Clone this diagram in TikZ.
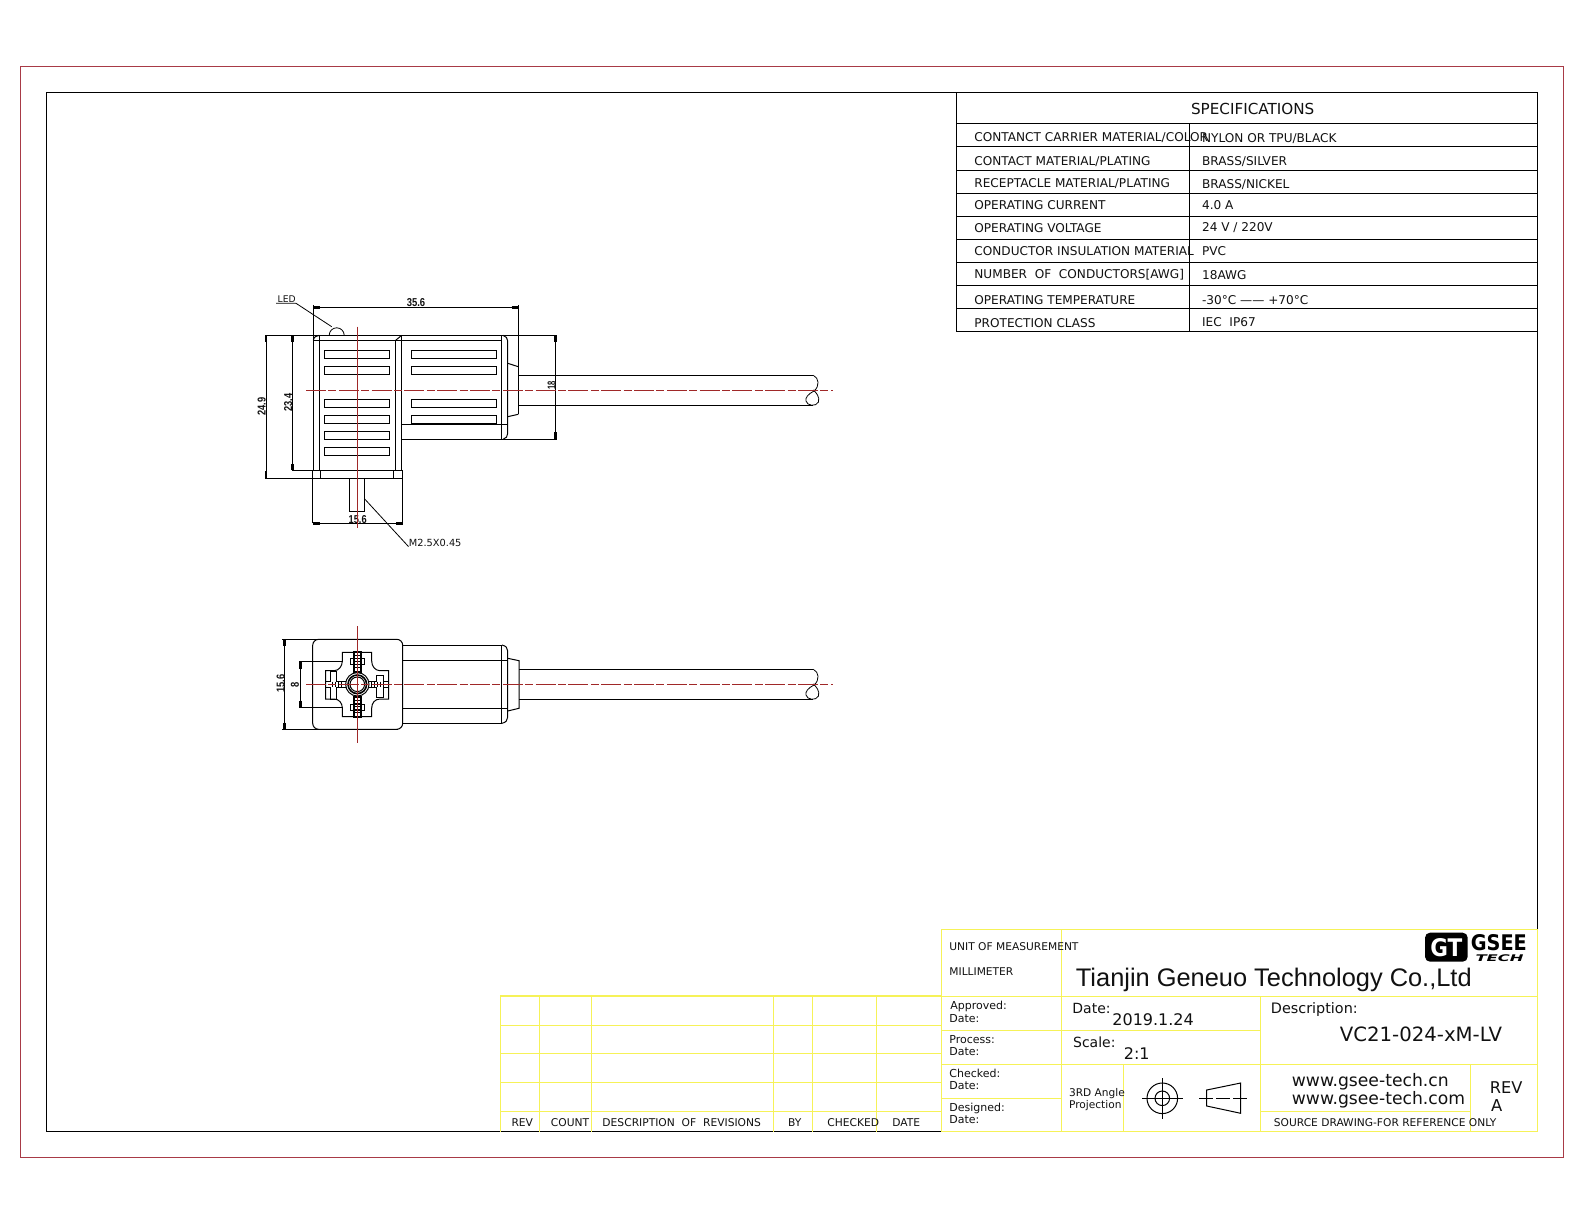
\documentclass[tikz,border=0pt]{standalone}
\usepackage{fontspec}
\setmainfont{DejaVu Sans}
\newfontfamily\arialf{Liberation Sans}
\definecolor{frameR}{HTML}{A83A46}
\definecolor{cent}{HTML}{A02828}
\definecolor{yel}{HTML}{F6F258}
\definecolor{ink}{HTML}{111111}
\newcommand\Tx[5]{\node[txt,yshift=-#4*0.365pt,font=\fontsize{#4}{#4}\selectfont] (#1) at (#2,#3) {#5};}
\newcommand\Tc[5]{\node[txtc,yshift=-#4*0.365pt,font=\fontsize{#4}{#4}\selectfont] (#1) at (#2,#3) {#5};}
% CAD dimension number: name,x,y,width,height,rotation,text (lengths in pt)
\newcommand\Dm[7]{\node[inner sep=0,rotate=#6,text=ink] (#1) at (#2,#3) {\resizebox{#4pt}{#5pt}{\arialf\bfseries #7}};}
\tikzset{
 txt/.style={anchor=base west,inner sep=0,text=ink},
 txtc/.style={anchor=base,inner sep=0,text=ink},
 blk/.style={draw=black,line width=0.5pt},
 thin blk/.style={draw=black,line width=0.4pt},
 tickm/.style={draw=black,line width=1.3pt},
 yl/.style={draw=yel,line width=0.75pt},
 cl/.style={draw=cent,line width=0.5pt},
 cld/.style={draw=cent,line width=0.5pt,dash pattern=on 10pt off 1.2pt on 4pt off 1.2pt},
}
\begin{document}
\begin{tikzpicture}[x=0.5pt,y=-0.5pt]
\useasboundingbox[fill=white] (0,0) rectangle (1584,1224);
% frames
\draw[draw=frameR,line width=0.5pt] (20.2,66.7) rectangle (1563.3,1157.5);
\draw[blk] (941.7,1131.5) -- (46.5,1131.5) -- (46.5,93) -- (1537.5,93) -- (1537.5,929.3);
% spec table
\draw[blk] (956.3,93) -- (956.3,331.5) -- (1537.5,331.5) -- (1537.5,93);
\foreach \yy in {123.3,146.3,170.3,193.3,216.3,239.3,262.3,285.3,308.3}
  \draw[blk] (956.3,\yy) -- (1537.5,\yy);
\draw[blk] (1189.3,123.3) -- (1189.3,331.5);
\Tc{sp}{1252.7}{109.3}{7.6}{SPECIFICATIONS}
\Tx{a1}{974}{137.3}{6.05}{CONTANCT CARRIER MATERIAL/COLOR}
\Tx{a2}{974}{160.7}{6.05}{CONTACT MATERIAL/PLATING}
\Tx{a3}{974}{183.3}{6.05}{RECEPTACLE MATERIAL/PLATING}
\Tx{a4}{974}{205.3}{6.05}{OPERATING CURRENT}
\Tx{a5}{974}{228.3}{6.05}{OPERATING VOLTAGE}
\Tx{a6}{974}{251.3}{6.05}{CONDUCTOR INSULATION MATERIAL}
\Tx{a7}{974}{274.3}{6.05}{NUMBER\ \ OF\ \ CONDUCTORS[AWG]}
\Tx{a8}{974}{300.3}{6.05}{OPERATING TEMPERATURE}
\Tx{a9}{974}{323.3}{6.05}{PROTECTION CLASS}
\Tx{b1}{1201.7}{138}{6.05}{NYLON OR TPU/BLACK}
\Tx{b2}{1201.7}{160.7}{6.05}{BRASS/SILVER}
\Tx{b3}{1201.7}{183.7}{6.05}{BRASS/NICKEL}
\Tx{b4}{1201.7}{204.7}{6.05}{4.0 A}
\Tx{b5}{1201.7}{226.7}{6.05}{24 V / 220V}
\Tx{b6}{1201.7}{251.3}{6.05}{PVC}
\Tx{b7}{1201.7}{275}{6.05}{18AWG}
\Tx{b8}{1201.7}{300}{6.05}{-30°C —— +70°C}
\Tx{b9}{1201.7}{321.7}{6.05}{IEC\ \ IP67}
% revision table
\foreach \yy in {996,1025.3,1053.3,1082.3,1111.3} \draw[yl] (500.3,\yy) -- (941.7,\yy);
\foreach \xx in {500.3,539.3,591.3,773.7,812.3,876.7} \draw[yl] (\xx,996) -- (\xx,1131.5);
\Tc{r1}{522.3}{1122.3}{5.35}{REV}
\Tc{r2}{570}{1122.3}{5.35}{COUNT}
\Tc{r3}{681.7}{1122.3}{5.35}{DESCRIPTION\ \ OF\ \ REVISIONS}
\Tc{r4}{794.7}{1122.3}{5.35}{BY}
\Tc{r5}{853.3}{1122.3}{5.35}{CHECKED}
\Tc{r6}{906.3}{1122.3}{5.35}{DATE}
% title block grid
\draw[yl] (941.7,929.3) rectangle (1537.3,1131.5);
\draw[yl] (941.7,996.7) -- (1537.3,996.7);
\draw[yl] (941.7,1030.7) -- (1260.7,1030.7);
\draw[yl] (941.7,1064.7) -- (1537.3,1064.7);
\draw[yl] (941.7,1098.7) -- (1061.7,1098.7);
\draw[yl] (1260.7,1111.3) -- (1470.3,1111.3);
\draw[yl] (1061.7,929.3) -- (1061.7,1131.5);
\draw[yl] (1123.3,1064.7) -- (1123.3,1131.5);
\draw[yl] (1260.7,996.7) -- (1260.7,1131.5);
\draw[yl] (1470.3,1064.7) -- (1470.3,1131.5);
% title block text
\Tx{t1}{949}{947}{5.33}{UNIT OF MEASUREMENT}
\Tx{t2}{949}{972}{5.33}{MILLIMETER}
\node[txt,yshift=-4.6pt,font=\arialf\fontsize{12.7}{12.7}\selectfont] (t3) at (1075.5,977) {Tianjin Geneuo Technology Co.,Ltd};
\Tx{t4}{950}{1005.3}{5.5}{Approved:}
\Tx{t5}{949}{1018.3}{5.5}{Date:}
\Tx{t6}{949}{1039.3}{5.5}{Process:}
\Tx{t7}{949}{1051.3}{5.5}{Date:}
\Tx{t8}{949}{1073.3}{5.5}{Checked:}
\Tx{t9}{949}{1085.3}{5.5}{Date:}
\Tx{t10}{949}{1107.3}{5.5}{Designed:}
\Tx{t11}{949}{1119.3}{5.5}{Date:}
\Tx{t12}{1072}{1008.3}{7}{Date:}
\Tx{t13}{1112}{1019.3}{8}{2019.1.24}
\Tx{t14}{1072.7}{1042.3}{7}{Scale:}
\Tx{t15}{1123.5}{1053.3}{8}{2:1}
\Tx{t16}{1068.7}{1092.3}{5.3}{3RD Angle}
\Tx{t17}{1068.7}{1104.3}{5.3}{Projection}
\Tx{t18}{1270.5}{1008.5}{7.2}{Description:}
\Tx{t19}{1339.5}{1034.3}{9.85}{VC21-024-xM-LV}
\Tx{t20}{1291.5}{1080}{8.6}{www.gsee-tech.cn}
\Tx{t21}{1291.5}{1098.3}{8.6}{www.gsee-tech.com}
\Tx{t22}{1489.5}{1087.3}{8.1}{REV}
\Tc{t23}{1496.7}{1105.7}{8.2}{A}
\Tx{t24}{1273.5}{1122.8}{5.33}{SOURCE DRAWING-FOR REFERENCE ONLY}
% projection symbol
\draw[blk] (1162.3,1098.3) circle (15.3) (1162.3,1098.3) circle (7.3);
\draw[blk] (1142,1098.3) -- (1160,1098.3) (1164.6,1098.3) -- (1182.6,1098.3)
           (1162.3,1078) -- (1162.3,1096) (1162.3,1100.6) -- (1162.3,1118.6);
\draw[blk] (1160,1098.3) -- (1164.6,1098.3) (1162.3,1096) -- (1162.3,1100.6);
\draw[blk] (1206.7,1090) -- (1240.7,1083) -- (1240.7,1113.3) -- (1206.7,1106) -- cycle;
\draw[blk,dash pattern=on 7pt off 1.5pt] (1199.3,1098.3) -- (1246.7,1098.3);
% logo
\fill[black,rounded corners=2.5pt] (1425,932.7) rectangle (1467.7,961.7);
\node[inner sep=0,text=white] (gt) at (1446.3,947.2) {\resizebox{16pt}{9pt}{\bfseries GT}};
\node[inner sep=0,text=black] (gs) at (1498.8,943) {\resizebox{28pt}{8pt}{\bfseries GSEE}};
\node[inner sep=0,text=black] (te) at (1499.5,958.4) {\resizebox{24pt}{3.4pt}{\bfseries\itshape TECH}};
% ---------- front view ----------
\draw[blk] (265,335.3) -- (557.3,335.3);
\draw[blk] (313.3,340.3) -- (501.7,340.3);
\draw[blk] (313.3,305) -- (313.3,470.7);
\draw[blk] (319.3,340.3) -- (319.3,470.7);
\draw[blk] (395.7,340.3) -- (395.7,470.7);
\draw[blk] (401.7,335.3) -- (401.7,470.7);
\draw[blk] (395.7,340.3) -- (401.7,335.3);
\draw[blk] (313.3,340.3) .. controls (314,337) and (316,335.5) .. (319.3,335.3);
\draw[blk] (319.3,335.3) -- (319.3,340.3);
\draw[blk] (293,470.7) -- (402.7,470.7);
\draw[blk] (265,478.3) -- (402.7,478.3);
\draw[blk] (312.7,470.7) -- (312.7,523.3);
\draw[blk] (402.7,470.7) -- (402.7,523.3);
\draw[blk] (320.7,470.7) -- (320.7,478.3);
\draw[blk] (393.3,470.7) -- (393.3,478.3);
\draw[blk] (349.3,478.3) rectangle (364.7,511.7);
% slots
\foreach \yy in {350.3,366.3,399.3,415.3,431.3,447.3}
  \draw[blk] (324.3,\yy) rectangle (389.7,\yy+8);
\foreach \yy in {350.3,366.3,399.3,415.3}
  \draw[blk] (411.3,\yy) rectangle (496.7,\yy+8);
% rear body and cap
\draw[blk] (401.7,424.3) -- (507.7,424.3);
\draw[blk] (401.7,439.3) -- (557.3,439.3);
\draw[blk] (501.7,335.3) -- (501.7,439.3);
\draw[blk] (503,335.3) .. controls (506,336.5) and (507.7,338) .. (507.7,341) -- (507.7,433.5) .. controls (507.7,436.5) and (506,438.5) .. (503,439.3);
\draw[blk] (507.7,363.3) -- (518.3,366.7);
\draw[blk] (507.7,416.7) -- (518.3,414.3);
\draw[blk] (518.3,305) -- (518.3,414.3);
% cable
\draw[blk] (518.3,375.3) -- (813.3,375.3);
\draw[blk] (518.3,405.3) -- (813.3,405.3);
\draw[thin blk] (813.3,375.3) .. controls (819,378) and (820,386) .. (814,391) .. controls (808,394) and (805,398) .. (806,401) .. controls (807,406) and (816,407) .. (818.5,402) .. controls (820,397) and (816,392) .. (813,390);
% dims front
\draw[blk] (313.3,307.3) -- (518.3,307.3);
\draw[tickm] (313.3,307.3) -- (320,307.3) (511.5,307.3) -- (518.3,307.3);
\draw[blk] (266,335.3) -- (266,478.3);
\draw[tickm] (266,336) -- (266,342) (266,471.5) -- (266,478);
\draw[blk] (292.7,335.3) -- (292.7,470.7);
\draw[tickm] (292.7,336) -- (292.7,342) (292.7,464) -- (292.7,470.3);
\draw[blk] (312.7,523.3) -- (402.7,523.3);
\draw[tickm] (312.7,523.3) -- (319.5,523.3) (396,523.3) -- (402.7,523.3);
\draw[blk] (555.7,335.3) -- (555.7,439.3);
\draw[tickm] (555.7,336) -- (555.7,342) (555.7,432.5) -- (555.7,439);
\Dm{d1}{416}{302.5}{9.2}{4}{0}{35.6}
\Dm{d2}{261.7}{406.7}{9}{4}{90}{24.9}
\Dm{d3}{288.3}{402.7}{9}{4}{90}{23.4}
\Dm{d4}{357.7}{519.3}{9}{4}{0}{15.6}
\Dm{d5}{551.7}{385.7}{4.2}{4}{90}{18}
% LED
\Tx{led}{277.3}{298.8}{4.6}{LED}
\coordinate (ledu) at (296,303.3);
\coordinate (ledb) at (331.7,326.7);
\draw[thin blk] (276,303.3) -- (ledu) -- (ledb);
\draw[thin blk] (329.2,335.3) arc[start angle=180,end angle=360,radius=7.5];
% M2.5
\Tx{m25}{408.5}{543}{4.9}{M2.5X0.45}
\coordinate (scr) at (364.7,499);
\draw[thin blk] (scr) -- (m25.base west);
% centre lines front
\draw[cl] (357.3,326.7) -- (357.3,528.3);
\draw[cld] (306,390.3) -- (833.3,390.3);
% ---------- side view ----------
\draw[blk,rounded corners=3pt] (312.7,639.3) rectangle (402.7,729.3);
\draw[blk] (282,639.3) -- (398,639.3);
\draw[blk] (282,729.3) -- (398,729.3);
\draw[blk] (299.3,661.7) -- (343.3,661.7);
\draw[blk] (299.3,707.3) -- (343.3,707.3);
\draw[blk] (284.3,639.3) -- (284.3,729.3);
\draw[tickm] (284.3,640) -- (284.3,646) (284.3,722.5) -- (284.3,729);
\draw[blk] (300.7,661.7) -- (300.7,707.3);
\draw[tickm] (300.7,662.3) -- (300.7,668.5) (300.7,700.5) -- (300.7,707);
\Dm{d6}{280.7}{683.3}{9}{4}{90}{15.6}
\Dm{d7}{295}{684.7}{2.6}{4}{90}{8}
% side body
\draw[blk] (402.7,645) -- (501.7,645) (402.7,723.3) -- (501.7,723.3);
\draw[blk] (402.7,660.7) -- (507.7,660.7) (402.7,708.3) -- (507.7,708.3);
\draw[blk] (501.7,645) -- (501.7,723.3);
\draw[blk] (502,645) .. controls (506,646) and (507.7,648) .. (507.7,651) -- (507.7,717) .. controls (507.7,720) and (506,722.5) .. (502,723.3);
\draw[blk] (507.7,658.3) -- (519,660.7) -- (519,708.3) -- (507.7,711);
\draw[blk] (519,669.3) -- (813.3,669.3) (519,699.3) -- (813.3,699.3);
\draw[thin blk] (813.3,669.3) .. controls (819,672) and (820,680) .. (814,685) .. controls (808,688) and (805,692) .. (806,695) .. controls (807,700) and (816,701) .. (818.5,696) .. controls (820,691) and (816,686) .. (813,684);
% connector face
\draw[blk] (342.3,652.3) -- (371.7,652.3) -- (371.7,661) .. controls (371.7,666) and (375,670.7) .. (380,670.7) -- (388.7,670.7) -- (388.7,699) -- (380,699) .. controls (375,699) and (371.7,703) .. (371.7,708) -- (371.7,716.7) -- (342.3,716.7) -- (342.3,708) .. controls (342.3,703) and (339,699) .. (334,699) -- (325.7,699) -- (325.7,670.7) -- (334,670.7) .. controls (339,670.7) and (342.3,666) .. (342.3,661) -- cycle;
% top and bottom contacts
\draw[blk] (350,658.3) rectangle (364.3,664.3);
\draw[blk] (350,704.3) rectangle (364.3,710.3);
\draw[draw=black,line width=0.9pt] (354,652.3) rectangle (360.7,671.7);
\draw[draw=black,line width=0.9pt] (354,697) rectangle (360.7,716.7);
\foreach \yy in {655,658,661,664,667,700,703,706,709,712}
  \draw[thin blk] (354,\yy) -- (360.7,\yy);
% left and right contacts
\draw[blk] (330.7,671) -- (336.7,671) -- (336.7,681.7) -- (346.5,681.7) -- (346.5,687.3) -- (336.7,687.3) -- (336.7,699) -- (330.7,699) -- (330.7,687.3) -- (325.7,687.3) -- (325.7,681.7) -- (330.7,681.7) -- cycle;
\draw[blk] (376.3,675) -- (383,675) -- (383,681.7) -- (388.7,681.7) -- (388.7,687.3) -- (383,687.3) -- (383,697) -- (376.3,697) -- (376.3,687.3) -- (368,687.3) -- (368,681.7) -- (376.3,681.7) -- cycle;
\foreach \xx in {332,335,338,341,371,374,377,380,383}
  \draw[thin blk] (\xx,681.7) -- (\xx,687.3);
% centre circles
\fill[white] (357.3,684.3) circle (11.7);
\draw[blk] (357.3,684.3) circle (11.7);
\draw[draw=black,line width=0.8pt] (357.3,684.3) circle (9.3);
\draw[blk] (357.3,684.3) circle (7.3);
% centre lines side
\draw[cl] (357.3,626) -- (357.3,743.3);
\draw[cld] (306,684.3) -- (833.3,684.3);
\end{tikzpicture}
\end{document}
